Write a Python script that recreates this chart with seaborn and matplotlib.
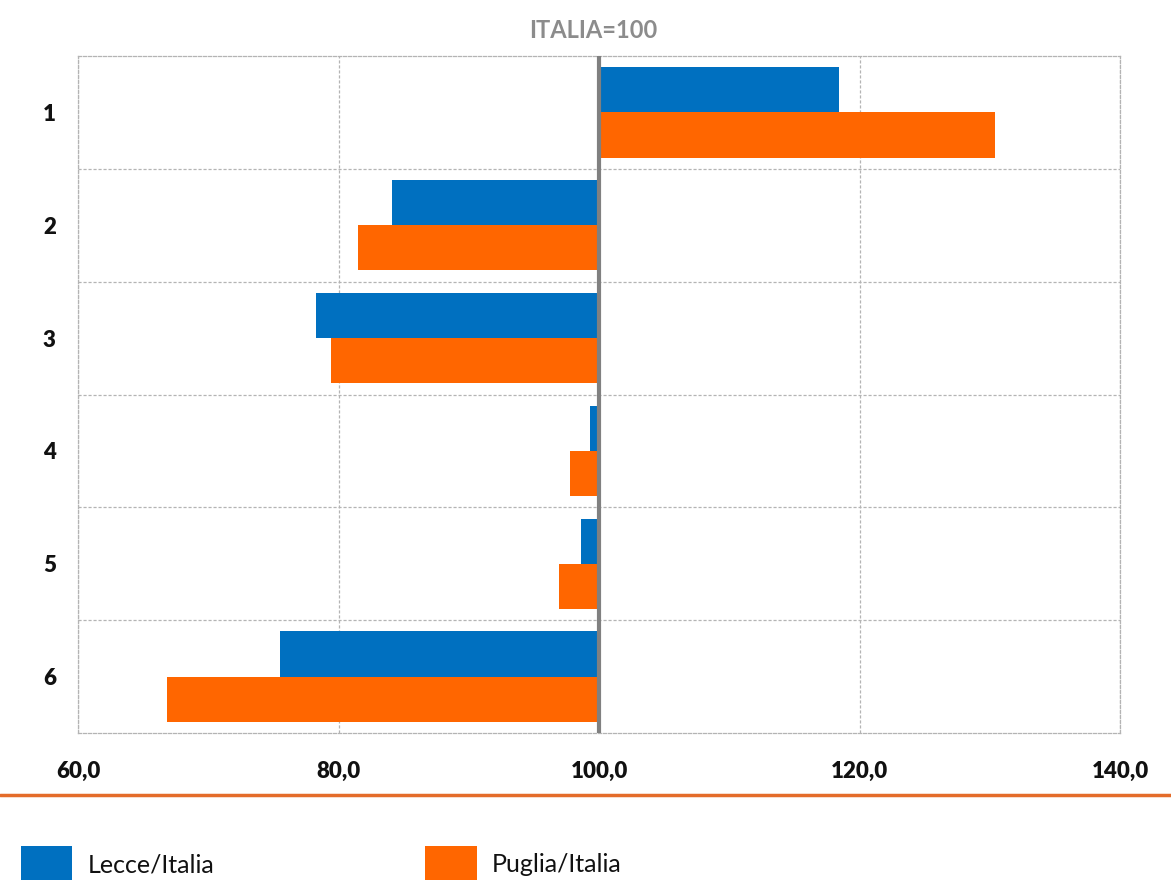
import matplotlib
matplotlib.use("Agg")
import matplotlib.pyplot as plt
import seaborn as sns
import pandas as pd
from matplotlib.ticker import FuncFormatter, FixedLocator
from matplotlib.lines import Line2D

categories = ["1", "2", "3", "4", "5", "6"]
lecce = [118.4, 84.1, 78.3, 99.3, 98.6, 75.5]
puglia = [130.4, 81.5, 79.4, 97.8, 96.9, 66.8]
series_names = ["Lecce/Italia", "Puglia/Italia"]
base = 100
x_ticks = [60, 80, 100, 120, 140]
title = "ITALIA=100"

sns.set_theme(style="white")
plt.rcParams["font.family"] = ["Lato", "DejaVu Sans"]

df = pd.DataFrame({
    "cat": categories * 2,
    "serie": [series_names[0]] * len(categories) + [series_names[1]] * len(categories),
    "value": lecce + puglia,
})
df["dev"] = df["value"] - base

fig = plt.figure(figsize=(11.71, 8.8), dpi=100)
ax = fig.add_axes([0.0666, 0.167, 0.8899, 0.7694])

sns.barplot(data=df, y="cat", x="dev", hue="serie", orient="h",
            palette=["#0070C0", "#FF6600"], width=0.8, saturation=1,
            ax=ax, linewidth=0)

ax.set_xlim(x_ticks[0] - base, x_ticks[-1] - base)
ax.set_ylim(len(categories) - 0.5, -0.5)
ax.xaxis.set_major_locator(FixedLocator([t - base for t in x_ticks]))
ax.xaxis.set_major_formatter(FuncFormatter(lambda v, p: f"{v + base:.1f}".replace(".", ",")))
ax.set_yticks(range(len(categories)))
ax.set_yticklabels(categories)
ax.set_yticks([i + 0.5 for i in range(len(categories) - 1)], minor=True)
ax.set_xlabel("")
ax.set_ylabel("")

grid_style = dict(color="#B4B4B4", linestyle=(0, (2.5, 1.5)), linewidth=0.9)
ax.grid(True, axis="x", which="major", **grid_style)
ax.grid(True, axis="y", which="minor", **grid_style)
ax.grid(False, axis="y", which="major")
ax.set_axisbelow(True)
for s in ax.spines.values():
    s.set_visible(True)
    s.set_color("#B4B4B4")
    s.set_linestyle((0, (2.5, 1.5)))
    s.set_linewidth(0.9)

ax.axvline(0, color="#808080", linewidth=3, zorder=5)

ax.tick_params(axis="both", which="both", length=0)
ax.tick_params(axis="x", pad=20)
ax.tick_params(axis="y", pad=16)
for lab in ax.get_xticklabels():
    lab.set_fontsize(16)
    lab.set_fontweight("heavy")
    lab.set_color("#111111")
for lab in ax.get_yticklabels():
    lab.set_fontsize(16)
    lab.set_fontweight("heavy")
    lab.set_color("#111111")

fig.text(593 / 1171, 1 - 30 / 880, title, ha="center", va="center", fontsize=17,
         fontweight="bold", color="#8C8C8C")

fig.add_artist(Line2D([0, 1], [1 - 795 / 880, 1 - 795 / 880],
                      transform=fig.transFigure, color="#E46C2A", linewidth=2.5))

handles, labels = ax.get_legend_handles_labels()
ax.get_legend().remove()
fig.legend(handles, labels, loc="center left", bbox_to_anchor=(0.018, 1 - 864 / 880),
           ncol=2, frameon=False, fontsize=18, handlelength=2.05, handleheight=1.85,
           handletextpad=0.6, columnspacing=8.45, borderaxespad=0, borderpad=0,
           labelcolor="#111111")

fig.savefig("out.png", dpi=100)
